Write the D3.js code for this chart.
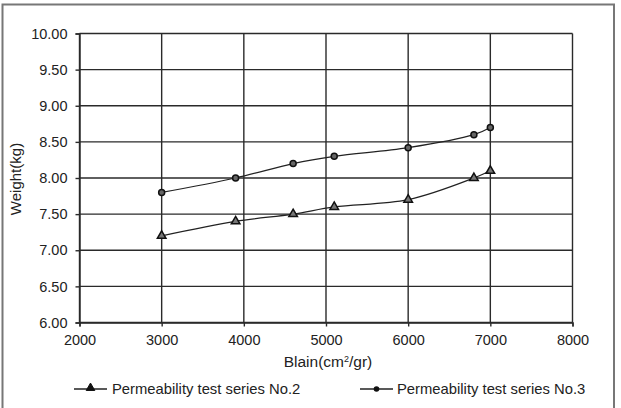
<!DOCTYPE html>
<html><head><meta charset="utf-8">
<script src="https://cdn.jsdelivr.net/npm/d3@7"></script>
<style>body{margin:0;background:#fff}svg{display:block}text{font-family:"Liberation Sans",Arial,sans-serif;fill:#222}</style>
</head><body><svg id="c" width="621" height="408"></svg>
<script>
const blain = [3000, 3900, 4600, 5100, 6000, 6800, 7000];
const series2 = [7.2, 7.4, 7.5, 7.6, 7.7, 8.0, 8.1];
const series3 = [7.8, 8.0, 8.2, 8.3, 8.42, 8.6, 8.7];
const xTicks = [2000, 3000, 4000, 5000, 6000, 7000, 8000];
const yTicks = [6.0, 6.5, 7.0, 7.5, 8.0, 8.5, 9.0, 9.5, 10.0];
const seriesNames = ["Permeability test series No.2", "Permeability test series No.3"];

const svg = d3.select("#c");
svg.append("rect").attr("x",2.5).attr("y",4.5).attr("width",611.5).attr("height",410)
  .attr("fill","none").attr("stroke","#777").attr("stroke-width",2);

const x = d3.scaleLinear().domain([2000,8000]).range([79.5,572.5]);
const y = d3.scaleLinear().domain([6,10]).range([322.5,33.5]);

const g = svg.append("g");
g.selectAll(".hg").data(yTicks).join("line")
  .attr("x1",x(2000)).attr("x2",x(8000)).attr("y1",d=>y(d)).attr("y2",d=>y(d))
  .attr("stroke","#2a2a2a").attr("stroke-width",1.4);
g.selectAll(".vg").data(xTicks).join("line")
  .attr("y1",y(6)).attr("y2",y(10)).attr("x1",d=>x(d)).attr("x2",d=>x(d))
  .attr("stroke","#2a2a2a").attr("stroke-width",1.4);

const xAxis = d3.axisBottom(x).tickValues(xTicks).tickSize(4).tickPadding(8).tickFormat(d3.format("d"));
const yAxis = d3.axisLeft(y).tickValues(yTicks).tickSize(4).tickPadding(8).tickFormat(d3.format(".2f"));
const gx = svg.append("g").attr("transform",`translate(0,${y(6)})`).call(xAxis);
const gy = svg.append("g").attr("transform",`translate(${x(2000)},0)`).call(yAxis);
[gx,gy].forEach(a=>{
  a.select(".domain").attr("stroke","#2a2a2a").attr("stroke-width",1.4);
  a.selectAll("line").attr("stroke","#2a2a2a").attr("stroke-width",1.4);
  a.selectAll("text").attr("font-size",14.5).attr("fill","#222").attr("font-family","Liberation Sans, Arial, sans-serif");
});

svg.append("text").attr("x",(x(2000)+x(8000))/2+2).attr("y",367).attr("text-anchor","middle")
  .attr("font-size",15.5).html('Blain(cm<tspan dy="-5" font-size="9">2</tspan><tspan dy="5">/gr)</tspan>');
svg.append("text").attr("transform","translate(21,179) rotate(-90)").attr("text-anchor","middle")
  .attr("font-size",15).text("Weight(kg)");

const line = d3.line().x(d=>x(d[0])).y(d=>y(d[1])).curve(d3.curveCatmullRom.alpha(0.5));
const d2 = blain.map((b,i)=>[b,series2[i]]);
const d3s = blain.map((b,i)=>[b,series3[i]]);
[d2,d3s].forEach(d=>{
  svg.append("path").datum(d).attr("d",line).attr("fill","none").attr("stroke","#222").attr("stroke-width",1.2);
});
const tri = d3.symbol().type(d3.symbolTriangle).size(32);
svg.selectAll(".t").data(d2).join("path").attr("d",tri)
  .attr("transform",d=>`translate(${x(d[0])},${y(d[1])})`)
  .attr("fill","#777").attr("stroke","#111").attr("stroke-width",1.5);
svg.selectAll(".o").data(d3s).join("circle").attr("cx",d=>x(d[0])).attr("cy",d=>y(d[1])).attr("r",3)
  .attr("fill","#666").attr("stroke","#111").attr("stroke-width",1.5);

const leg = [{x0:74,x1:107,tx:112,type:"tri"},{x0:360,x1:393,tx:397,type:"circ"}];
leg.forEach((l,i)=>{
  svg.append("line").attr("x1",l.x0).attr("x2",l.x1).attr("y1",389).attr("y2",389).attr("stroke","#222").attr("stroke-width",1.3);
  const cx=(l.x0+l.x1)/2;
  if(l.type==="tri") svg.append("path").attr("d",tri).attr("transform",`translate(${cx},388)`).attr("fill","#111").attr("stroke","#111");
  else svg.append("circle").attr("cx",cx).attr("cy",389).attr("r",2.8).attr("fill","#111");
  svg.append("text").attr("x",l.tx).attr("y",394).attr("font-size",14.8).text(seriesNames[i]);
});
</script></body></html>
